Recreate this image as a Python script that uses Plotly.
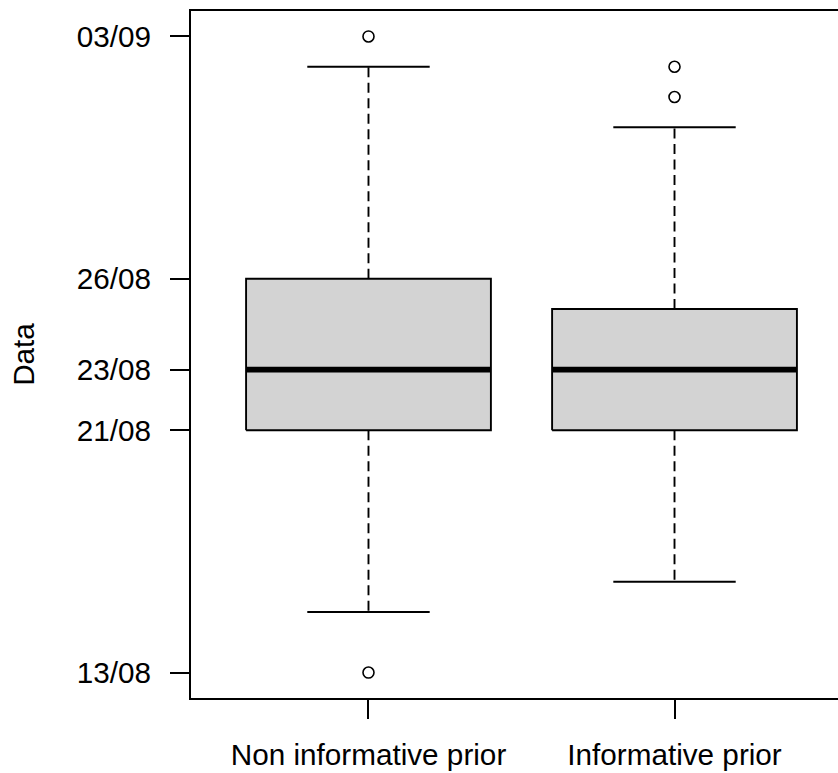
import plotly.graph_objects as go
from datetime import datetime, timedelta

# ---- data ----
categories = ["Non informative prior", "Informative prior"]
q1 = ["2020-08-21", "2020-08-21"]
median = ["2020-08-23", "2020-08-23"]
q3 = ["2020-08-26", "2020-08-25"]
whisker_low = ["2020-08-15", "2020-08-16"]
whisker_high = ["2020-09-02", "2020-08-31"]
outliers = [["2020-08-13", "2020-09-03"], ["2020-09-01", "2020-09-02"]]
tick_dates = ["2020-08-13", "2020-08-21", "2020-08-23", "2020-08-26", "2020-09-03"]
tick_labels = ["13/08", "21/08", "23/08", "26/08", "03/09"]
y_title = "Data"

# ---- style ----
FONT = "Liberation Sans, Arial, sans-serif"
FS = 29.7
LW = 1.9
BOX_HALF = 0.4      # R boxwex 0.8
STAPLE_HALF = 0.2   # staplewex 0.5
FILL = "#D3D3D3"

fig = go.Figure()
for i, cat in enumerate(categories):
    c = i + 1
    # whiskers (dashed)
    fig.add_trace(go.Scatter(
        x=[c, c, None, c, c],
        y=[q3[i], whisker_high[i], None, q1[i], whisker_low[i]],
        mode="lines", line=dict(color="black", width=LW, dash="10px,5.5px"),
        showlegend=False, hoverinfo="skip"))
    # staples
    fig.add_trace(go.Scatter(
        x=[c - STAPLE_HALF, c + STAPLE_HALF, None, c - STAPLE_HALF, c + STAPLE_HALF],
        y=[whisker_high[i], whisker_high[i], None, whisker_low[i], whisker_low[i]],
        mode="lines", line=dict(color="black", width=LW),
        showlegend=False, hoverinfo="skip"))
    # box
    fig.add_trace(go.Scatter(
        x=[c - BOX_HALF, c + BOX_HALF, c + BOX_HALF, c - BOX_HALF, c - BOX_HALF],
        y=[q1[i], q1[i], q3[i], q3[i], q1[i]],
        mode="lines", fill="toself", fillcolor=FILL,
        line=dict(color="black", width=LW),
        showlegend=False, name=cat))
    # median
    fig.add_trace(go.Scatter(
        x=[c - BOX_HALF, c + BOX_HALF], y=[median[i], median[i]],
        mode="lines", line=dict(color="black", width=5.6),
        showlegend=False, hoverinfo="skip"))
    # outliers
    fig.add_trace(go.Scatter(
        x=[c] * len(outliers[i]), y=outliers[i], mode="markers",
        marker=dict(symbol="circle-open", size=11, color="black",
                    line=dict(width=1.6, color="black")),
        showlegend=False))

# axis ranges like R (4% extension)
all_vals = [datetime.fromisoformat(v) for lst in (q1, median, q3, whisker_low, whisker_high)
            for v in lst] + [datetime.fromisoformat(v) for o in outliers for v in o]
ymin, ymax = min(all_vals), max(all_vals)
ext = (ymax - ymin) * 0.04
y_range = [(ymin - ext).isoformat(sep=" "), (ymax + ext).isoformat(sep=" ")]

n = len(categories)
x_lo = 0.5 - 0.04 * n
full_w = n + 0.08 * n
x_hi = x_lo + full_w * (647 / 661)  # right part of the frame is cropped off

fig.update_layout(
    width=838, height=773,
    margin=dict(l=191, r=0, t=11, b=75, pad=0),
    paper_bgcolor="white", plot_bgcolor="white",
    font=dict(family=FONT, size=FS, color="black"),
    xaxis=dict(
        range=[x_lo, x_hi], tickmode="array", tickvals=list(range(1, n + 1)),
        ticktext=categories, showgrid=False, zeroline=False,
        showline=True, mirror=True, linecolor="black", linewidth=LW,
        ticks="outside", ticklen=19, tickwidth=LW, tickcolor="black",
        ticklabelstandoff=10),
    yaxis=dict(
        type="date", range=y_range, tickmode="array", tickvals=tick_dates,
        ticktext=tick_labels, showgrid=False, zeroline=False,
        showline=True, mirror=False, linecolor="black", linewidth=LW,
        ticks="outside", ticklen=19, tickwidth=LW, tickcolor="black",
        ticklabelstandoff=13,
        title=dict(text=y_title, standoff=33, font=dict(size=FS))),
)

fig.write_html("out.html")
